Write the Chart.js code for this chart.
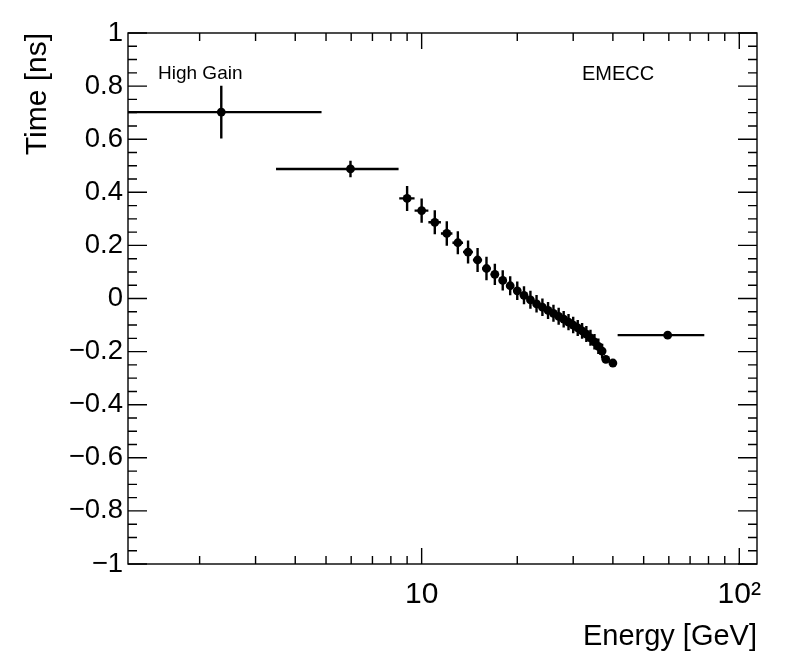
<!DOCTYPE html>
<html>
<head>
<meta charset="utf-8">
<title>EMECC time vs energy</title>
<script src="https://cdn.jsdelivr.net/npm/chart.js@4.4.1/dist/chart.umd.min.js"></script>
<style>
    html, body { margin: 0; padding: 0; background: #fff; }
    #chartBox { width: 796px; height: 672px; }
</style>
</head>
<body>
<div id="chartBox"><canvas id="chart" width="796" height="672"></canvas></div>
<script>
(function () {

    'use strict';

    // energy bins [GeV], half widths, mean time [ns] and its error
    const energy = [2.34, 5.97,
        9, 10, 11, 12, 13, 14, 15, 16, 17, 18, 19, 20, 21, 22, 23, 24, 25, 26,
        27, 28, 29, 30, 31, 32, 33, 34, 35, 36, 37, 38, 40,
        59.5];
    const energyErr = [2.5, 2.49,
        0.5, 0.5, 0.5, 0.5, 0.5, 0.5, 0.5, 0.5, 0.5, 0.5, 0.5, 0.5, 0.5, 0.5, 0.5, 0.5, 0.5, 0.5,
        0.5, 0.5, 0.5, 0.5, 0.5, 0.5, 0.5, 0.5, 0.5, 0.5, 0.5, 0.5, 0.5,
        18.1];
    const time = [0.702, 0.488,
        0.377, 0.331, 0.287, 0.245, 0.210, 0.175, 0.145, 0.113, 0.091, 0.068, 0.048, 0.029, 0.012, -0.005, -0.020, -0.033, -0.045, -0.056,
        -0.067, -0.078, -0.089, -0.100, -0.111, -0.122, -0.134, -0.148, -0.163, -0.180, -0.198, -0.229, -0.243,
        -0.138];
    const timeErr = [0.099, 0.031,
        0.047, 0.046, 0.045, 0.046, 0.043, 0.043, 0.045, 0.044, 0.040, 0.038, 0.036, 0.035, 0.034, 0.034, 0.033, 0.033, 0.032, 0.032,
        0.032, 0.031, 0.031, 0.031, 0.030, 0.030, 0.030, 0.030, 0.029, 0.029, 0.028, 0.012, 0.010,
        0.004];

    // axes
    const xMin = 1.19;
    const xMax = 113.7;
    const xTicks = [10, 100];
    const xTickLabels = ['10', '10\u00B2'];
    const xMinorTicks = [2, 3, 4, 5, 6, 7, 8, 9, 20, 30, 40, 50, 60, 70, 80, 90];
    const yTicks = [-1, -0.8, -0.6, -0.4, -0.2, 0, 0.2, 0.4, 0.6, 0.8, 1];
    const yTickLabels = ['\u22121', '\u22120.8', '\u22120.6', '\u22120.4', '\u22120.2', '0', '0.2', '0.4', '0.6', '0.8', '1'];

    const FONT = '"Liberation Sans", Arial, Helvetica, sans-serif';

    window.addEventListener("load", init);

    function init() {
        let points = energy.map((e, i) => ({ x: e, y: time[i] }));

        let config = {
            type: 'scatter',
            data: {
                datasets: [{
                    data: points,
                    backgroundColor: '#000',
                    borderColor: '#000',
                    borderWidth: 0,
                    pointRadius: 4.4,
                    pointHoverRadius: 4.4
                }]
            },
            options: {
                responsive: false,
                animation: false,
                devicePixelRatio: 1,
                events: [],
                layout: { padding: { top: 33, right: 39, left: 0, bottom: 0 } },
                plugins: {
                    legend: { display: false },
                    tooltip: { enabled: false }
                },
                scales: {
                    x: {
                        type: 'logarithmic',
                        bounds: 'data',
                        min: xMin,
                        max: xMax,
                        afterBuildTicks: (ax) => { ax.ticks = xTicks.map(v => ({ value: v })); },
                        afterFit: (ax) => { ax.height = 108; },
                        grid: { display: false, drawTicks: false },
                        border: { display: false },
                        ticks: {
                            autoSkip: false,
                            maxRotation: 0,
                            padding: 13,
                            color: '#000',
                            font: { family: FONT, size: 30 },
                            callback: (v, i) => xTickLabels[i]
                        },
                        title: {
                            display: true,
                            text: 'Energy [GeV]',
                            align: 'end',
                            color: '#000',
                            font: { family: FONT, size: 29 },
                            padding: { top: 0, bottom: 18 }
                        }
                    },
                    y: {
                        type: 'linear',
                        bounds: 'data',
                        min: -1,
                        max: 1,
                        afterBuildTicks: (ax) => { ax.ticks = yTicks.map(v => ({ value: v })); },
                        afterFit: (ax) => { ax.width = 128; },
                        grid: { display: false, drawTicks: false },
                        border: { display: false },
                        ticks: {
                            autoSkip: false,
                            padding: 5,
                            color: '#000',
                            font: { family: FONT, size: 27.5 },
                            callback: (v, i) => yTickLabels[i]
                        },
                        title: {
                            display: true,
                            text: 'Time [ns]',
                            align: 'end',
                            color: '#000',
                            font: { family: FONT, size: 30 },
                            padding: { top: 20, bottom: 0 }
                        }
                    }
                }
            },
            plugins: [errorBars, frame]
        };

        new Chart(id('chart'), config);
    }

    // x and y error bars, drawn under the markers
    const errorBars = {
        id: 'errorBars',
        beforeDatasetsDraw(chart) {
            const { ctx, chartArea: a, scales: { x, y } } = chart;
            ctx.save();
            ctx.beginPath();
            ctx.rect(a.left, a.top, a.right - a.left, a.bottom - a.top);
            ctx.clip();
            ctx.strokeStyle = '#000';
            ctx.lineWidth = 2.4;
            ctx.beginPath();
            energy.forEach((e, i) => {
                let lo = Math.max(e - energyErr[i], x.min);
                let hi = Math.min(e + energyErr[i], x.max);
                let px = x.getPixelForValue(e);
                let py = y.getPixelForValue(time[i]);
                ctx.moveTo(x.getPixelForValue(lo), py);
                ctx.lineTo(x.getPixelForValue(hi), py);
                ctx.moveTo(px, y.getPixelForValue(time[i] - timeErr[i]));
                ctx.lineTo(px, y.getPixelForValue(time[i] + timeErr[i]));
            });
            ctx.stroke();
            ctx.restore();
        }
    };

    // ROOT style frame with inward ticks on all four sides, plus labels
    const frame = {
        id: 'frame',
        afterDraw(chart) {
            const { ctx, chartArea: a, scales: { x, y } } = chart;
            ctx.save();
            ctx.strokeStyle = '#000';
            ctx.lineWidth = 1.4;
            ctx.strokeRect(a.left, a.top, a.right - a.left, a.bottom - a.top);

            ctx.beginPath();
            let tickX = (v, len) => {
                let px = x.getPixelForValue(v);
                ctx.moveTo(px, a.bottom); ctx.lineTo(px, a.bottom - len);
                ctx.moveTo(px, a.top); ctx.lineTo(px, a.top + len);
            };
            let tickY = (v, len) => {
                let py = y.getPixelForValue(v);
                ctx.moveTo(a.left, py); ctx.lineTo(a.left + len, py);
                ctx.moveTo(a.right, py); ctx.lineTo(a.right - len, py);
            };
            xTicks.forEach(v => tickX(v, 16));
            xMinorTicks.forEach(v => tickX(v, 8));
            yTicks.forEach((v, i) => {
                tickY(v, 19);
                if (i < yTicks.length - 1) {
                    let step = (yTicks[i + 1] - v) / 4;
                    for (let k = 1; k < 4; k++) {
                        tickY(v + k * step, 9);
                    }
                }
            });
            ctx.stroke();

            ctx.fillStyle = '#000';
            ctx.textBaseline = 'middle';
            ctx.textAlign = 'left';
            ctx.font = '19px ' + FONT;
            ctx.fillText('High Gain', 158, 74);
            ctx.font = '20px ' + FONT;
            ctx.fillText('EMECC', 582, 74);
            ctx.restore();
        }
    };

    function id(idName) {
        return document.getElementById(idName);
    }

})();
</script>
</body>
</html>
